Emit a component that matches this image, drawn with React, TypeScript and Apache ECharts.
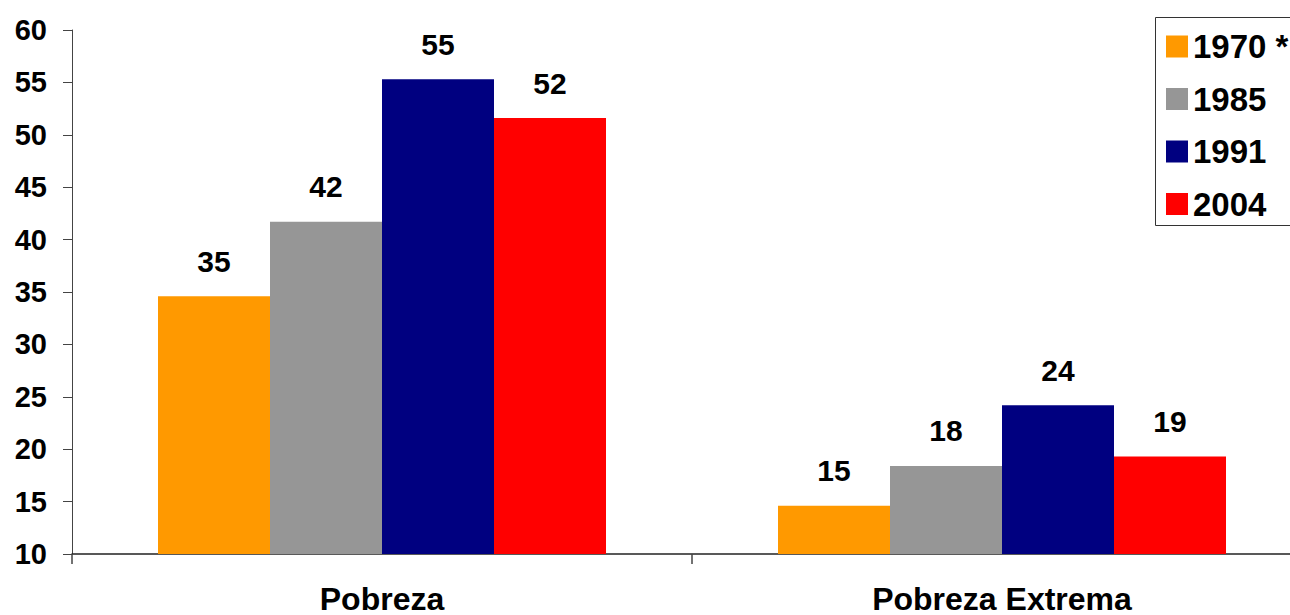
import React, { useEffect, useRef } from "react";
import * as echarts from "echarts";

const categories = ["Pobreza", "Pobreza Extrema"];
const seriesNames = ["1970 *", "1985", "1991", "2004"];
const values1970 = [34.6, 14.6];
const values1985 = [41.7, 18.4];
const values1991 = [55.3, 24.2];
const values2004 = [51.6, 19.3];
const seriesColors = ["#FF9900", "#969696", "#000080", "#FF0000"];
const yMin = 10;
const yMax = 60;
const yInterval = 5;

const FONT = "'Liberation Sans', Arial, sans-serif";

export default function App() {
  const ref = useRef<HTMLDivElement>(null);
  useEffect(() => {
    if (!ref.current) return;
    const chart = echarts.init(ref.current, null, { renderer: "svg" });
    const allValues = [values1970, values1985, values1991, values2004];
    chart.setOption({
      animation: false,
      backgroundColor: "#ffffff",
      grid: { left: 72, right: 8, top: 30, bottom: 55, containLabel: false },
      legend: {
        orient: "vertical",
        left: 1166,
        top: 30,
        padding: 0,
        itemWidth: 22,
        itemHeight: 22,
        itemGap: 19.5,
        itemTextGap: 3,
        icon: "rect",
        data: seriesNames,
        textStyle: {
          fontFamily: FONT,
          fontWeight: "bold",
          fontSize: 33,
          color: "#000",
          lineHeight: 32,
        },
      },
      graphic: [
        {
          type: "rect",
          left: 1153,
          top: 15,
          shape: { width: 200, height: 208 },
          style: { fill: "none", stroke: "#333", lineWidth: 1 },
          z: -1,
        },
      ],
      xAxis: {
        type: "category",
        data: categories,
        axisLine: { show: true, lineStyle: { color: "#222", width: 1.5 } },
        axisTick: { show: true, length: 10, alignWithLabel: false, lineStyle: { color: "#444", width: 1.5 } },
        axisLabel: {
          fontFamily: FONT,
          fontWeight: "bold",
          fontSize: 32,
          color: "#000",
          margin: 29,
        },
        splitLine: { show: false },
      },
      yAxis: {
        type: "value",
        min: yMin,
        max: yMax,
        interval: yInterval,
        axisLine: { show: true, lineStyle: { color: "#444", width: 1 } },
        axisTick: { show: true, length: 9, lineStyle: { color: "#444" } },
        axisLabel: {
          fontFamily: FONT,
          fontWeight: "bold",
          fontSize: 29,
          color: "#000",
          margin: 25,
        },
        splitLine: { show: false },
      },
      series: seriesNames.map((name, i) => ({
        name,
        type: "bar",
        data: allValues[i],
        barWidth: 112,
        barGap: "0%",
        itemStyle: { color: seriesColors[i] },
        label: {
          show: true,
          position: "top",
          distance: 20,
          fontFamily: FONT,
          fontWeight: "bold",
          fontSize: 30,
          color: "#000",
          formatter: (p: any) => String(Math.round(p.value)),
        },
      })),
    });
    return () => chart.dispose();
  }, []);
  return (
    <div
      ref={ref}
      style={{ position: "fixed", left: 0, top: 0, width: 1320, height: 615 }}
    />
  );
}
